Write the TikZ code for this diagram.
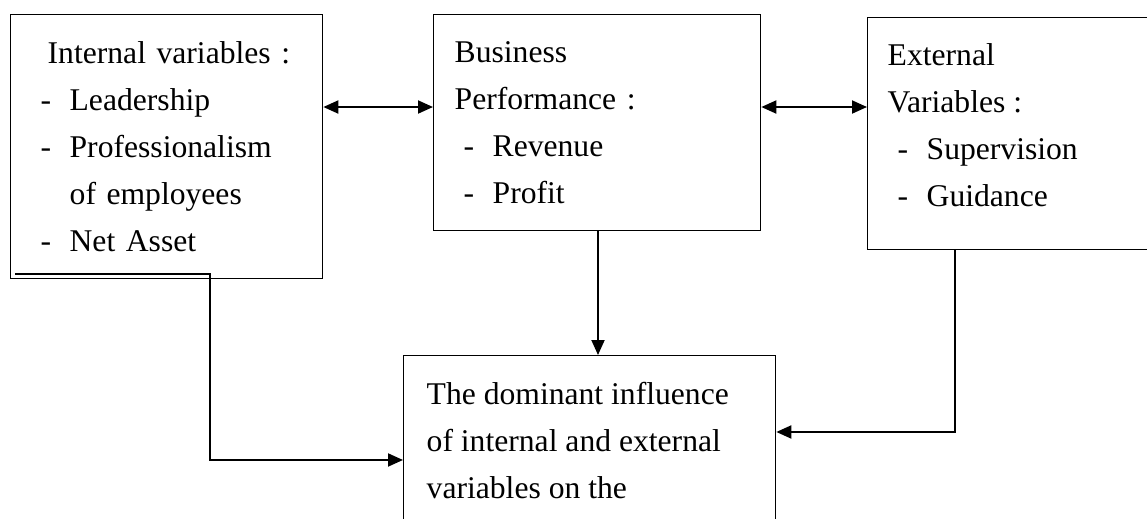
\documentclass[tikz,border=0pt]{standalone}
\usepackage{fontspec}
\setmainfont{Liberation Serif}
\usetikzlibrary{arrows.meta}
\newcommand{\litem}[2]{\hspace*{#1}\makebox[0.58cm][l]{-}#2}
\tikzset{
    varbox/.style={draw,line width=0.8pt,anchor=north west,align=left,
        font=\fontsize{18}{26.7}\selectfont},
    arr/.style={line width=1.1pt,-{Triangle[length=0.3cm,width=0.26cm]}},
    biarr/.style={line width=1.1pt,{Triangle[length=0.3cm,width=0.26cm]}-{Triangle[length=0.3cm,width=0.26cm]}}
}
\begin{document}
\begin{tikzpicture}[x=0.02cm,y=-0.02cm]
        \useasboundingbox (0,0) rectangle (1147,518);
        \node[varbox,minimum width=6.24cm,minimum height=5.28cm,inner xsep=0.6cm,text width=5.04cm] (intv) at (10,14)
            {\hspace{0.14cm}Internal variables :\\ \litem{0cm}{Leadership}\\ \litem{0cm}{Professionalism}\\ \hspace{0.58cm}of employees\\ \litem{0cm}{Net Asset}};
        \node[varbox,minimum width=6.54cm,minimum height=4.32cm,inner xsep=0.42cm,text width=5.7cm] (perf) at (433,14)
            {Business\\ Performance :\\ \litem{0.18cm}{Revenue}\\ \litem{0.18cm}{Profit}};
        \node[varbox,inner xsep=0.4cm,inner ysep=0.52cm] (extv) at (867,17)
            {\parbox[c][3.6cm][t]{5.4cm}{\fontsize{18}{26.7}\selectfont External\\ Variables :\\ \litem{0.2cm}{Supervision}\\ \litem{0.2cm}{Guidance}}};
        \node[varbox,inner xsep=0.46cm,inner ysep=0.54cm] (result) at (403,355)
            {\parbox[c][6cm][t]{6.52cm}{\fontsize{18}{26.7}\selectfont The dominant influence\\ of internal and external\\ variables on the}};
        \coordinate (arrowrow) at (0,107);
        \coordinate (intfoot) at ([shift={(5,-5)}]intv.south west);
        \draw[biarr] (intv.east |- arrowrow) -- (perf.west |- arrowrow);
        \draw[biarr] (perf.east |- arrowrow) -- (extv.west |- arrowrow);
        \draw[arr] (perf.south -| 598,0) -- (result.north -| 598,0);
        \draw[arr] (intfoot) -- ++(195,0) |- ([yshift=-2.1cm]result.north west);
        \draw[arr] ([xshift=1.76cm]extv.south west) |- ([yshift=-1.54cm]result.north east);
    \end{tikzpicture}
\end{document}
